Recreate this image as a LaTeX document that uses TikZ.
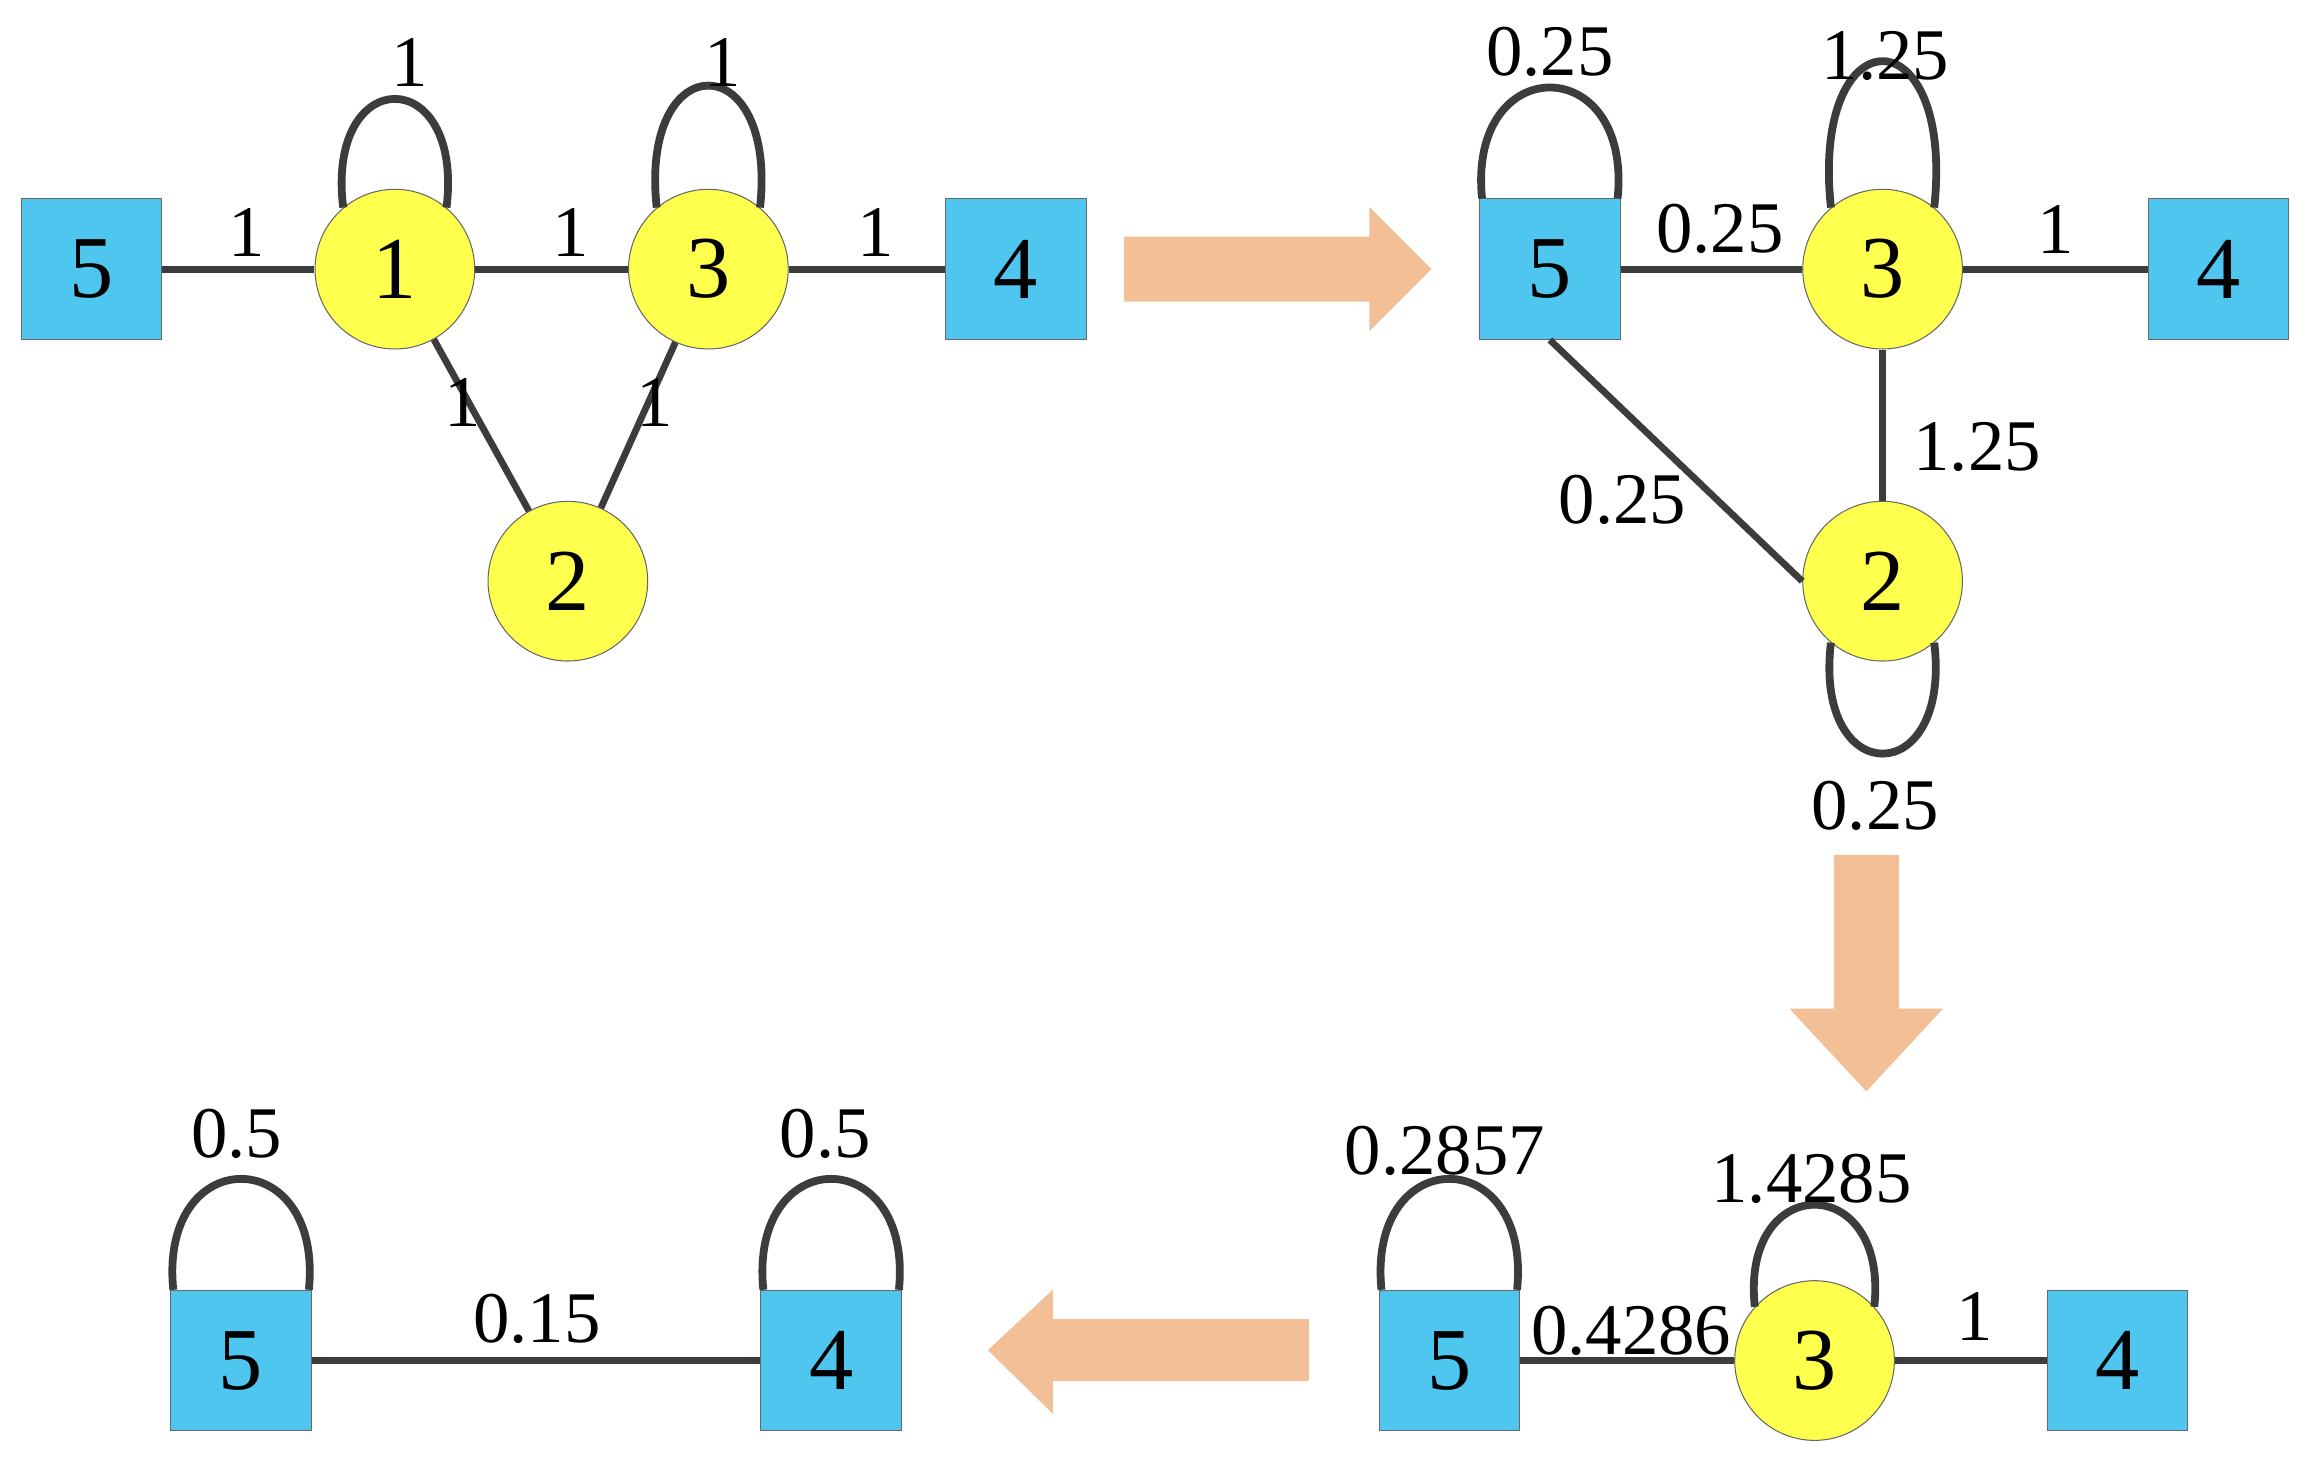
\documentclass[tikz,border=0pt]{standalone}
\usepackage{fontspec}
\setmainfont{Liberation Serif}
\usetikzlibrary{calc}
\definecolor{sq}{HTML}{4EC6F0}
\definecolor{yel}{HTML}{FFFF4D}
\definecolor{arr}{HTML}{F2BF96}
\definecolor{ln}{HTML}{3C3C3C}
\begin{document}
\begin{tikzpicture}[x=0.02cm,y=-0.02cm,
 sqn/.style={draw=black!60,line width=0.4pt,fill=sq,minimum size=1.9cm,inner sep=0pt,font=\fontsize{34}{34}\selectfont},
 crn/.style={circle,draw=black!60,line width=0.4pt,fill=yel,minimum size=2.16cm,inner sep=0pt,font=\fontsize{34}{34}\selectfont},
 e/.style={draw=ln,line width=2.6pt},
 lp/.style={draw=ln,line width=3pt},
 lb/.style={font=\fontsize{28}{28}\selectfont,inner sep=0pt},
 ar/.style={fill=arr,draw=none}]
\useasboundingbox (0,0) rectangle (1560,986);
% panel 1
\node[sqn] (a5) at (62,182) {5};
\node[crn] (a1) at (267,182) {1};
\node[crn] (a3) at (479,182) {3};
\node[sqn] (a4) at (687,182) {4};
\node[crn] (a2) at (384,393) {2};
\draw[e] (a5) -- (a1); \draw[e] (a1) -- (a3); \draw[e] (a3) -- (a4);
\draw[e] (a1) -- (a2); \draw[e] (a3) -- (a2);
\draw[lp] (a1.130) .. controls +(-12,-98) and +(12,-98) .. (a1.50);
\draw[lp] (a3.130) .. controls +(-12,-110) and +(12,-110) .. (a3.50);
\node[lb] (l1) at (277,42) {1};
\node[lb] (l2) at (489,42) {1};
\node[lb] (l3) at (167,157) {1};
\node[lb] (l4) at (386,157) {1};
\node[lb] (l5) at (592,157) {1};
\node[lb] (l6) at (313,272) {1};
\node[lb] (l7) at (443,272) {1};
% arrow right
\fill[ar] (760,160) -- (926,160) -- (926,140) -- (968,182) -- (926,224) -- (926,204) -- (760,204) -- cycle;
% panel 2
\node[sqn] (b5) at (1048,182) {5};
\node[crn] (b3) at (1273,182) {3};
\node[sqn] (b4) at (1500,182) {4};
\node[crn] (b2) at (1273,393) {2};
\draw[e] (b5) -- (b3); \draw[e] (b3) -- (b4); \draw[e] (b3) -- (b2);
\draw[e] (b5.south) -- (b2.west);
\draw[lp] ($(b5.north west)+(2,0)$) .. controls +(-10,-100) and +(10,-100) .. ($(b5.north east)+(-2,0)$);
\draw[lp] (b3.130) .. controls +(-14,-132) and +(14,-132) .. (b3.50);
\draw[lp] (b2.-130) .. controls +(-12,100) and +(12,100) .. (b2.-50);
\node[lb] (m1) at (1048,35) {0.25};
\node[lb] (m2) at (1275,38) {1.25};
\node[lb] (m3) at (1163,155) {0.25};
\node[lb] (m4) at (1390,155) {1};
\node[lb] (m5) at (1337,302) {1.25};
\node[lb] (m6) at (1097,338) {0.25};
\node[lb] (m7) at (1268,545) {0.25};
% arrow down
\fill[ar] (1240,578) -- (1284,578) -- (1284,682) -- (1314,682) -- (1262,738) -- (1210,682) -- (1240,682) -- cycle;
% panel 3
\node[sqn] (c5) at (980,920) {5};
\node[crn] (c3) at (1227,920) {3};
\node[sqn] (c4) at (1432,920) {4};
\draw[e] (c5) -- (c3); \draw[e] (c3) -- (c4);
\draw[lp] ($(c5.north west)+(2,0)$) .. controls +(-10,-100) and +(10,-100) .. ($(c5.north east)+(-2,0)$);
\draw[lp] (c3.138) .. controls +(-10,-92) and +(10,-92) .. (c3.42);
\node[lb] (n1) at (977,778) {0.2857};
\node[lb] (n2) at (1225,797) {1.4285};
\node[lb] (n3) at (1103,900) {0.4286};
\node[lb] (n4) at (1335,890) {1};
% arrow left
\fill[ar] (885,892) -- (712,892) -- (712,872) -- (668,913) -- (712,956) -- (712,934) -- (885,934) -- cycle;
% panel 4
\node[sqn] (d5) at (163,920) {5};
\node[sqn] (d4) at (562,920) {4};
\draw[e] (d5) -- (d4);
\draw[lp] ($(d5.north west)+(2,0)$) .. controls +(-10,-100) and +(10,-100) .. ($(d5.north east)+(-2,0)$);
\draw[lp] ($(d4.north west)+(2,0)$) .. controls +(-10,-100) and +(10,-100) .. ($(d4.north east)+(-2,0)$);
\node[lb] (o1) at (160,767) {0.5};
\node[lb] (o2) at (558,767) {0.5};
\node[lb] (o3) at (363,892) {0.15};
\end{tikzpicture}
\end{document}
